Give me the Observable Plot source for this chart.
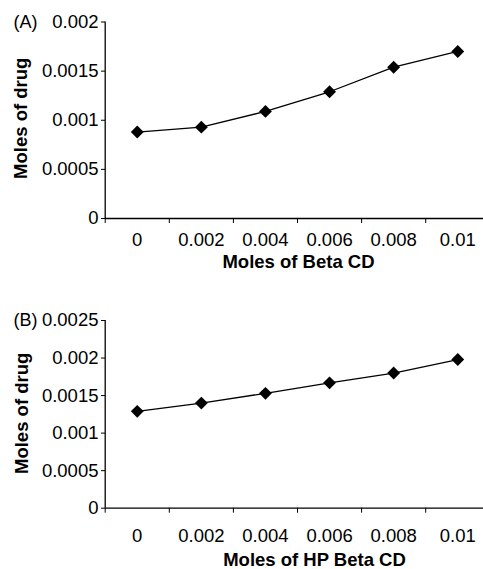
<!DOCTYPE html>
<html>
<head>
<meta charset="utf-8">
<script src="https://cdn.jsdelivr.net/npm/d3@7"></script>
<script src="https://cdn.jsdelivr.net/npm/@observablehq/plot@0.6"></script>
<style>
  html, body { margin: 0; padding: 0; background: #fff; }
  #chart svg { display: block; }
</style>
</head>
<body>
<div id="chart"></div>
<script>
// ---- data ----
const xValues = [0, 0.002, 0.004, 0.006, 0.008, 0.01];
const xTickLabels = ["0", "0.002", "0.004", "0.006", "0.008", "0.01"];
const drugWithBetaCD = [0.00088, 0.00093, 0.00109, 0.00129, 0.00154, 0.00170];
const drugWithHPBetaCD = [0.00129, 0.00140, 0.00153, 0.00167, 0.00180, 0.00198];
const yTicksA = [0, 0.0005, 0.001, 0.0015, 0.002];
const yTicksB = [0, 0.0005, 0.001, 0.0015, 0.002, 0.0025];
const panelTags = ["(A)", "(B)"];
const xTitles = ["Moles of Beta CD", "Moles of HP Beta CD"];
const yTitle = "Moles of drug";

const FONT = "'Liberation Sans', Arial, Helvetica, sans-serif";
const step = xValues[1] - xValues[0];
const xBoundaries = xValues.map(v => v - step / 2).concat([xValues[xValues.length - 1] + step / 2]);

function panel(o) {
  const data = xValues.map((x, i) => ({x, y: o.values[i], label: xTickLabels[i]}));
  return Plot.plot({
    width: 483,
    height: o.height,
    marginLeft: 105,
    marginRight: 0,
    marginTop: o.marginTop,
    marginBottom: o.marginBottom,
    style: {fontFamily: FONT, fontSize: "18.5px", color: "black", background: "white", overflow: "hidden"},
    x: {
      type: "linear",
      domain: [xBoundaries[0], xBoundaries[xBoundaries.length - 1]],
      range: [104.7, 489.3],
      ticks: xBoundaries,
      tickSize: 5,
      tickFormat: () => "",
      label: null
    },
    y: {
      domain: [0, o.yMax],
      ticks: o.yTicks,
      tickSize: 4,
      tickPadding: 3,
      tickFormat: d => String(d),
      label: null
    },
    marks: [
      Plot.ruleY([0], {stroke: "black", strokeWidth: 1.3}),
      Plot.ruleX([xBoundaries[0]], {stroke: "black", strokeWidth: 1.3}),
      Plot.line(data, {x: "x", y: "y", stroke: "black", strokeWidth: 1.3}),
      Plot.dot(data, {x: "x", y: "y", symbol: "diamond2", r: 5.8, fill: "black", stroke: null}),
      Plot.text(data, {x: "x", y: () => 0, text: "label", dy: o.labelDy, fontSize: 18.5, fill: "black", lineAnchor: "middle"}),
      Plot.text([o.xTitle], {frameAnchor: "bottom", textAnchor: "middle", lineAnchor: "middle", dx: o.titleDx, dy: o.titleDy, fontWeight: "bold", fontSize: 18.5, fill: "black"}),
      Plot.text([yTitle], {frameAnchor: "left", textAnchor: "middle", lineAnchor: "middle", rotate: -90, dx: o.yTitleDx, dy: o.yTitleDy, fontWeight: "bold", fontSize: 18.5, fill: "black"}),
      Plot.text([o.tag], {frameAnchor: "top-left", textAnchor: "start", lineAnchor: "middle", dx: -92, dy: 0, fontSize: 18, fill: "black"})
    ]
  });
}

const chart = document.getElementById("chart");
chart.appendChild(panel({
  values: drugWithBetaCD, yMax: 0.002, yTicks: yTicksA, tag: panelTags[0], xTitle: xTitles[0],
  height: 280, marginTop: 21.5, marginBottom: 62,
  labelDy: 22, titleDx: 4, titleDy: 44, yTitleDx: -84.5, yTitleDy: -2
}));
chart.appendChild(panel({
  values: drugWithHPBetaCD, yMax: 0.0025, yTicks: yTicksB, tag: panelTags[1], xTitle: xTitles[1],
  height: 289, marginTop: 40, marginBottom: 61.3,
  labelDy: 27.7, titleDx: 20, titleDy: 52, yTitleDx: -83, yTitleDy: -1
}));
</script>
</body>
</html>
